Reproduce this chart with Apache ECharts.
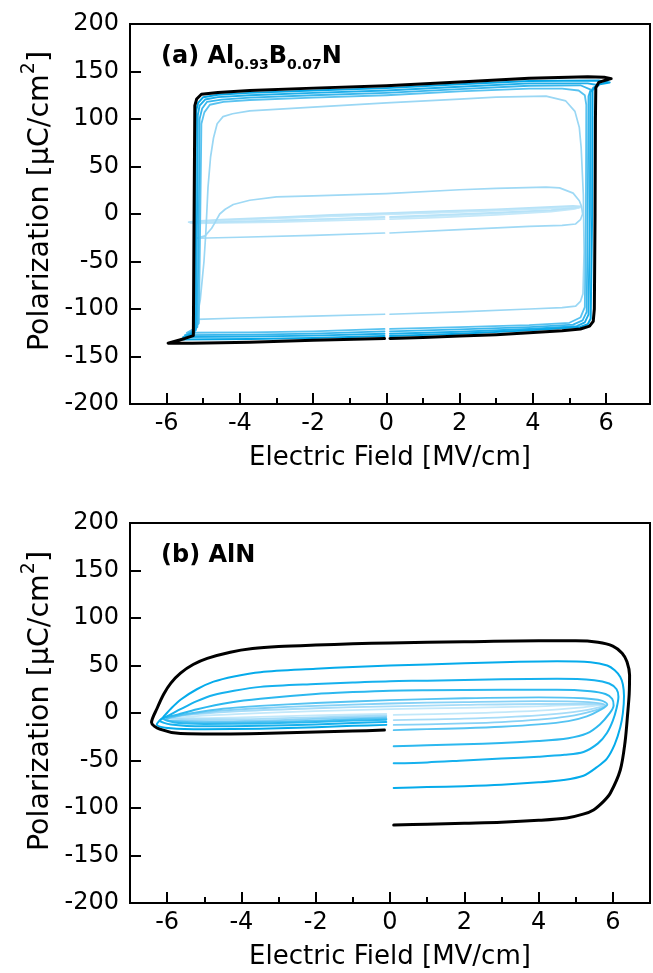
<!DOCTYPE html>
<html>
<head>
<meta charset="utf-8">
<script src="https://cdn.jsdelivr.net/npm/echarts@6/dist/echarts.min.js"></script>
<style>
html,body{margin:0;padding:0;background:#fff;}
#c{width:653px;height:973px;}
</style>
</head>
<body>
<div id="c"></div>
<script>
// ---------- axis ticks ----------
const xMajorTicks = [-6, -4, -2, 0, 2, 4, 6];
const xMinorTicks = [-5, -3, -1, 1, 3, 5];
const yTicks = [-200, -150, -100, -50, 0, 50, 100, 150, 200];

// ---------- (a) Al0.93B0.07N : [E (MV/cm), P (uC/cm2)] ----------
const topBlack = [[0.1,-131],[1,-130],[2,-128.5],[3,-127],[3.9,-125],[4.8,-123],[5.3,-121],[5.55,-118],[5.65,-113],[5.68,-100],[5.7,0],[5.71,100],[5.72,133],[5.8,138.5],[6.0,141],[6.14,142.5],[5.95,144],[5.5,144.5],[3.9,143],[2,139],[0,135],[-2,132.5],[-3.73,130],[-4.6,128],[-5.05,126],[-5.18,121],[-5.23,114],[-5.25,0],[-5.27,-128],[-5.5,-131],[-5.96,-136],[-5.3,-136],[-3.73,-135],[-2,-133],[-0.05,-131]];
const topS1 = [[0.1,-128.5],[2,-126],[3.9,-122.5],[5.3,-119],[5.5,-116],[5.58,-110],[5.62,0],[5.63,130],[5.75,136],[6.1,138.5],[5.8,140.5],[3.9,140],[2,136.5],[0,132.5],[-2,130],[-3.73,127.5],[-4.6,125.5],[-5.0,123],[-5.14,117],[-5.2,108],[-5.22,0],[-5.24,-125],[-5.45,-129],[-5.6,-132],[-3.73,-131.5],[-2,-130.5],[-0.05,-128.5]];
const topS2 = [[0.1,-126],[2,-124],[3.9,-121],[5.2,-118],[5.42,-114],[5.52,-106],[5.56,0],[5.57,128],[5.65,133],[5.8,135.5],[5.5,137.5],[3.9,137.5],[2,134],[0,130],[-2,127.5],[-3.73,125],[-4.6,123],[-4.95,120.5],[-5.1,114],[-5.15,104],[-5.17,0],[-5.2,-122],[-5.4,-127],[-5.55,-129.5],[-3.73,-129],[-2,-128],[-0.05,-126]];
const topS3 = [[0.1,-123.5],[2,-121.5],[3.9,-119],[5.1,-116.5],[5.36,-112],[5.47,-103],[5.5,0],[5.52,124],[5.58,131],[5.6,133],[5.3,135.5],[3.9,135],[2,131.5],[0,127.5],[-2,125],[-3.73,122.5],[-4.5,120.5],[-4.9,118],[-5.03,111],[-5.1,100],[-5.12,0],[-5.16,-119],[-5.35,-125],[-5.5,-127.5],[-3.73,-127],[-2,-126],[-0.05,-123.5]];
const topS4 = [[0.1,-121],[2,-119],[3.9,-117],[5.0,-114.5],[5.3,-109],[5.42,-98],[5.45,0],[5.46,115],[5.42,125],[5.25,130],[4.8,132],[3.9,132],[2,129],[0,125],[-2,122.5],[-3.73,120],[-4.45,118],[-4.82,115],[-4.97,107],[-5.05,95],[-5.08,0],[-5.12,-115],[-5.3,-122],[-5.45,-125],[-3.73,-124.5],[-2,-123.5],[-0.05,-121]];
const topMid = [[0.1,-105.5],[2,-103],[3.91,-100],[4.8,-98.5],[5.17,-97],[5.3,-92],[5.37,-84],[5.4,-40],[5.38,20],[5.32,70],[5.27,91],[5.15,108],[4.9,119],[4.36,124],[3,123],[2,121],[0,117],[-2,112.5],[-3.73,108.5],[-4.2,105.5],[-4.46,102.5],[-4.62,95],[-4.72,80],[-4.8,60],[-4.87,28],[-4.93,-20],[-4.98,-50],[-5.08,-90],[-5.18,-111],[-4,-109.5],[-2,-107.5],[-0.05,-105.5]];
const topSmall = [[0.1,-20],[2,-16.5],[3.9,-13],[4.8,-12],[5.17,-10.5],[5.3,-6],[5.36,0],[5.33,8],[5.27,14],[5.1,22],[4.73,27.5],[4.36,28.3],[3,27],[2,25.5],[0,21.5],[-2,19],[-3.0,18],[-3.73,14.5],[-4.18,10],[-4.4,5],[-4.55,0],[-4.68,-9],[-4.77,-15],[-4.95,-23],[-5.2,-25.5],[-4,-24.5],[-2,-22.5],[-0.05,-20]];
const topLin1 = [[0.1,-5.5],[1.5,-3.5],[3,-1],[4.5,2.5],[5.1,5],[5.3,7],[5.1,7.5],[4.5,6.5],[3,4],[1.5,2],[0,0],[-1.5,-2],[-3,-4.5],[-4.5,-7],[-5.2,-8.5],[-5.35,-9.5],[-5.2,-10],[-4.5,-9.5],[-3,-8.5],[-1.5,-7],[-0.05,-5.5]];
const topLin2 = [[0.1,-4],[1.5,-2],[3,0.5],[4.5,3.5],[5.1,5.5],[5.25,6.5],[5.1,7],[4.5,6],[3,3.5],[1.5,1.5],[0,-0.5],[-1.5,-2.5],[-3,-4.5],[-4.5,-6.5],[-5.2,-8],[-5.3,-8.5],[-5.2,-9],[-4.5,-8.5],[-3,-7],[-1.5,-5.5],[-0.05,-4]];
const topLin3 = [[0.1,-3],[1.5,-1],[3,1.5],[4.5,4],[5.15,6.5],[5.3,8],[5.1,8.5],[4.5,7.5],[3,5],[1.5,3],[0,1],[-1.5,-1],[-3,-3.5],[-4.5,-6],[-5.2,-7.5],[-5.4,-8.5],[-5.2,-9],[-4.5,-8.5],[-3,-7],[-1.5,-5],[-0.05,-3]];

// ---------- (b) AlN ----------
const botBlack = [[0.1,-118],[1,-117],[2,-116],[3,-115],[4,-113],[4.76,-110.5],[5.2,-106.5],[5.48,-102],[5.75,-93],[5.93,-84.5],[6.2,-60],[6.33,-30],[6.4,0],[6.44,20],[6.45,40],[6.38,54],[6.25,63],[6.0,70.5],[5.6,74.5],[5,76],[4,76],[2,75],[0,73.8],[-1,72.8],[-2,71.6],[-3,70],[-3.7,67.8],[-4.3,64],[-4.92,57.5],[-5.3,51],[-5.64,42],[-5.9,31.5],[-6.09,20],[-6.27,5],[-6.42,-10],[-6.2,-17],[-5.64,-21.5],[-4.5,-22],[-3.5,-21.5],[-2,-20],[-1,-19],[-0.15,-18]];
const botL1 = [[0.1,-79],[1,-78],[2,-77],[3,-75.5],[4,-73],[4.67,-70.5],[5.21,-66],[5.57,-57],[5.84,-48],[6.05,-33],[6.2,-15],[6.27,0],[6.3,18],[6.27,30],[6.2,38],[6.05,45],[5.85,50],[5.4,53.5],[4.5,54.5],[3,53.5],[1,51],[0,50],[-1,48.5],[-2,46.5],[-3.49,43],[-4.2,38.5],[-4.75,33],[-5.2,25],[-5.64,14],[-5.9,4.5],[-6.1,-4],[-6.28,-12],[-5.9,-16],[-5,-17],[-3.5,-16.5],[-2,-15],[-1,-13.5],[-0.1,-12.5]];
const botL2 = [[0.1,-53],[1,-52],[2,-50],[3,-48],[4,-46],[4.7,-44],[5.21,-41],[5.6,-32],[5.84,-21],[6.0,-8],[6.1,5],[6.15,17],[6.1,25],[5.9,31],[5.5,34.5],[4.5,36],[3,35.5],[1,34],[0,33.5],[-1,32],[-2,30.5],[-3.49,27.5],[-4.2,23.5],[-4.75,19],[-5.2,12.5],[-5.64,4],[-5.95,-2.5],[-6.2,-8],[-5.9,-12],[-5,-14],[-3.5,-13.5],[-2,-12],[-1,-10.5],[-0.1,-9.5]];
const botL3 = [[0.1,-35],[1,-34],[2,-33],[3,-31.5],[4,-29.5],[4.8,-26.5],[5.3,-21.5],[5.65,-12],[5.9,-1],[6.02,8],[5.98,15],[5.8,20],[5.4,23],[4.5,24.5],[3,24.5],[1,24],[0,23.5],[-1,22],[-2,20],[-3.49,15],[-4.3,11],[-5.19,4],[-5.7,-1.5],[-6.1,-6],[-5.8,-10],[-5,-11.5],[-3.5,-11],[-2,-9.5],[-1,-8],[-0.1,-7]];
const botL4 = [[0.1,-18],[1,-17],[2,-16],[3,-14.5],[4,-12],[4.8,-8.5],[5.3,-3.5],[5.65,3],[5.85,9],[5.7,13],[5.2,15.5],[4,16.5],[2,15.5],[0,13.5],[-2,10.5],[-3.5,7.5],[-4.5,4.5],[-5.3,0],[-5.85,-4],[-6.05,-7],[-5.7,-9],[-5,-10],[-3.5,-9.5],[-2,-8],[-1,-6.5],[-0.1,-5.5]];
const botL5 = [[0.1,-12.6],[1,-12],[2,-11],[3,-9.5],[4,-7],[4.8,-3.5],[5.4,1.5],[5.8,8],[5.6,10.5],[5,12],[4,12.5],[2,11.5],[0,10],[-2,7.5],[-3.5,5],[-4.5,2.5],[-5.3,-1],[-5.85,-4.5],[-6,-6.5],[-5.6,-8],[-4.5,-8.5],[-3,-7.5],[-1.5,-5.5],[-0.1,-4]];
const botL6 = [[0.1,-7.4],[2,-6],[4,-2.5],[5.2,2.5],[5.75,8],[5.4,9.5],[4,9.5],[2,8.5],[0,7],[-2,5],[-4,2],[-5.3,-1.5],[-5.95,-5],[-5.5,-6.5],[-4,-6.5],[-2,-4.5],[-0.1,-2.5]];
const botL7 = [[0.1,-2],[2,-0.5],[4,2.5],[5.2,6],[5.7,8.5],[5.2,8.5],[4,7],[2,5.5],[0,4],[-2,2],[-4,-1],[-5.3,-3.5],[-5.9,-5.5],[-5.3,-5.5],[-4,-4.5],[-2,-2.5],[-0.1,-1]];

const FONT = '"DejaVu Sans", "Liberation Sans", sans-serif';

function loop(data, color, width, gi, z, smooth) {
  return {
    type: 'line', data: data, xAxisIndex: gi * 2, yAxisIndex: gi,
    showSymbol: false, symbol: 'none', smooth: smooth, z: z,
    lineStyle: { color: color, width: width, cap: 'round', join: 'round' },
    silent: true, animation: false
  };
}

function xAxes(gi, maxV) {
  return [{
    gridIndex: gi, type: 'value', min: -7, max: maxV, interval: 1, position: 'bottom',
    axisLine: { show: true, onZero: false, lineStyle: { color: '#000', width: 2 } },
    axisTick: { show: true, inside: true, length: 11, customValues: xMajorTicks, lineStyle: { color: '#000', width: 2 } },
    axisLabel: { show: true, customValues: xMajorTicks, color: '#000', fontFamily: FONT, fontSize: 24, margin: 8 },
    splitLine: { show: false },
    name: 'Electric Field [MV/cm]', nameLocation: 'middle', nameGap: 41,
    nameTextStyle: { color: '#000', fontFamily: FONT, fontSize: 26 }
  }, {
    gridIndex: gi, type: 'value', min: -7, max: maxV, interval: 1, position: 'bottom',
    axisLine: { show: false, onZero: false },
    axisTick: { show: true, inside: true, length: 6, customValues: xMinorTicks, lineStyle: { color: '#000', width: 2 } },
    axisLabel: { show: false },
    splitLine: { show: false }
  }];
}

function yAxis(gi) {
  return {
    gridIndex: gi, type: 'value', min: -200, max: 200, interval: 50,
    axisLine: { show: true, onZero: false, lineStyle: { color: '#000', width: 2 } },
    axisTick: { show: true, inside: true, length: 11, customValues: yTicks, lineStyle: { color: '#000', width: 2 } },
    axisLabel: { color: '#000', fontFamily: FONT, fontSize: 24, margin: 11 },
    splitLine: { show: false }
  };
}

function yTitle(cy) {
  return {
    type: 'text', x: 41, y: cy, rotation: Math.PI / 2, silent: true,
    style: {
      text: '{a|Polarization [µC/cm}{s|2}{a|]}',
      align: 'center', verticalAlign: 'middle',
      rich: {
        a: { fontFamily: FONT, fontSize: 28.5, lineHeight: 42, fill: '#000' },
        s: { fontFamily: FONT, fontSize: 19, lineHeight: 19, verticalAlign: 'top', fill: '#000' }
      }
    }
  };
}

function panelLabel(y, text) {
  return {
    type: 'text', x: 161, y: y, silent: true,
    style: {
      text: text, align: 'left', verticalAlign: 'middle',
      rich: {
        b: { fontFamily: FONT, fontWeight: 'bold', fontSize: 24, lineHeight: 30, fill: '#000' },
        s: { fontFamily: FONT, fontWeight: 'bold', fontSize: 14, lineHeight: 15, verticalAlign: 'bottom', fill: '#000' }
      }
    }
  };
}

const chart = echarts.init(document.getElementById('c'), null, { renderer: 'canvas' });

const series = [
  // top panel
  loop(topLin1, '#c4e8f9', 1.7, 0, 2, false),
  loop(topLin2, '#c4e8f9', 1.7, 0, 2, false),
  loop(topLin3, '#b8e3f8', 1.7, 0, 2, false),
  loop(topSmall, '#9fd9f5', 1.7, 0, 3, false),
  loop(topMid, '#9ad7f4', 1.7, 0, 3, false),
  loop(topS4, '#58c2f0', 1.8, 0, 4, false),
  loop(topS3, '#38b6ec', 1.8, 0, 4, false),
  loop(topS2, '#1eaeea', 1.9, 0, 5, false),
  loop(topS1, '#05a6e6', 2.0, 0, 5, false),
  loop(topBlack, '#000000', 3.0, 0, 10, false),
  // bottom panel
  loop(botL7, '#c2e8fa', 1.8, 1, 2, 0.3),
  loop(botL6, '#a6dcf8', 1.8, 1, 2, 0.3),
  loop(botL5, '#86d1f6', 1.8, 1, 3, 0.3),
  loop(botL4, '#55c3f2', 1.9, 1, 3, 0.3),
  loop(botL3, '#2cb8ef', 2.0, 1, 4, 0.3),
  loop(botL2, '#16b1ee', 2.0, 1, 4, 0.3),
  loop(botL1, '#05abeb', 2.0, 1, 5, 0.3),
  loop(botBlack, '#000000', 3.0, 1, 10, 0.3)
];

chart.setOption({
  animation: false,
  backgroundColor: '#fff',
  grid: [
    { left: 130, top: 24, width: 520, height: 380, show: true, borderColor: '#000', borderWidth: 2, backgroundColor: 'transparent' },
    { left: 130, top: 523, width: 520, height: 380, show: true, borderColor: '#000', borderWidth: 2, backgroundColor: 'transparent' }
  ],
  xAxis: [].concat(xAxes(0, 7.2), xAxes(1, 7)),
  yAxis: [yAxis(0), yAxis(1)],
  series: series,
  graphic: [
    yTitle(201),
    yTitle(701),
    panelLabel(57, '{b|(a) Al}{s|0.93}{b|B}{s|0.07}{b|N}'),
    panelLabel(556, '{b|(b) AlN}')
  ]
});
</script>
</body>
</html>
